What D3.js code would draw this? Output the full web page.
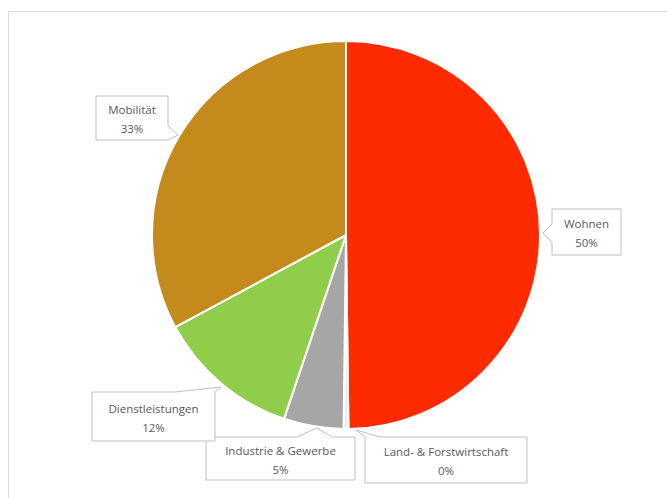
<!DOCTYPE html>
<html>
<head>
<meta charset="utf-8">
<script src="https://cdn.jsdelivr.net/npm/d3@7"></script>
<style>
  html, body { margin: 0; padding: 0; background: #fff; }
  svg { display: block; }
</style>
</head>
<body>
<svg id="chart" width="667" height="498"></svg>
<script>
// Energy use by sector (share of total)
const categories = ["Wohnen", "Land- & Forstwirtschaft", "Industrie & Gewerbe", "Dienstleistungen", "Mobilität"];
const values = [50, 0.4, 5, 12, 33];
const colors = ["#FF2B00", "#EDEDED", "#A6A6A6", "#8FCD4B", "#C48B1C"];

const svg = d3.select("#chart");
const W = 667, H = 498;

// outer chart frame
svg.append("rect")
  .attr("x", 8.5).attr("y", 11.5)
  .attr("width", W + 40).attr("height", H + 40)
  .attr("fill", "#fff")
  .attr("stroke", "#D9D9D9")
  .attr("stroke-width", 1);

const cx = 346, cy = 235, r = 194;
const total = d3.sum(values);

const pie = d3.pie().sort(null).value(d => d.value).startAngle(0).endAngle(2 * Math.PI);
const arc = d3.arc().innerRadius(0).outerRadius(r);
const data = categories.map((c, i) => ({ name: c, value: values[i], color: colors[i] }));
const arcs = pie(data);

const g = svg.append("g").attr("transform", `translate(${cx},${cy})`);
g.selectAll("path.slice")
  .data(arcs)
  .join("path")
  .attr("class", "slice")
  .attr("d", arc)
  .attr("fill", d => d.data.color)
  .attr("stroke", "#fff")
  .attr("stroke-width", 2)
  .attr("stroke-linejoin", "round");

// callout boxes: box rect, pointer side, pointer base span along that side, pointer tip
const callouts = {
  "Wohnen":                  { x: 552, y: 209, w: 69,  h: 46, side: "left",  b0: 224, b1: 242, tip: [543, 233] },
  "Land- & Forstwirtschaft": { x: 365, y: 437, w: 162, h: 46, side: "top",   b0: 365, b1: 380, tip: [356, 430] },
  "Industrie & Gewerbe":     { x: 206, y: 437, w: 149, h: 43, side: "top",   b0: 297, b1: 332, tip: [317, 428] },
  "Dienstleistungen":        { x: 92,  y: 392, w: 123, h: 49, side: "top",   b0: 175, b1: 215, tip: [221, 387] },
  "Mobilität":               { x: 96,  y: 96,  w: 72,  h: 44, side: "right", b0: 126, b1: 140, tip: [178, 135] }
};

function calloutPath(c) {
  const x0 = c.x, y0 = c.y, x1 = c.x + c.w, y1 = c.y + c.h;
  const p = d3.path();
  p.moveTo(x0, y0);
  if (c.side === "top") { p.lineTo(c.b0, y0); p.lineTo(c.tip[0], c.tip[1]); p.lineTo(c.b1, y0); }
  p.lineTo(x1, y0);
  if (c.side === "right") { p.lineTo(x1, c.b0); p.lineTo(c.tip[0], c.tip[1]); p.lineTo(x1, c.b1); }
  p.lineTo(x1, y1);
  p.lineTo(x0, y1);
  if (c.side === "left") { p.lineTo(x0, c.b1); p.lineTo(c.tip[0], c.tip[1]); p.lineTo(x0, c.b0); }
  p.closePath();
  return p.toString();
}

const labels = svg.append("g").attr("class", "labels");
arcs.forEach(a => {
  const c = callouts[a.data.name];
  const pct = Math.round(a.data.value / total * 100) + "%";
  const lg = labels.append("g");
  lg.append("path")
    .attr("d", calloutPath(c))
    .attr("fill", "#fff")
    .attr("stroke", "#BFBFBF")
    .attr("stroke-width", 1);
  const tx = c.x + c.w / 2;
  const ty = c.y + c.h / 2;
  const t = lg.append("text")
    .attr("text-anchor", "middle")
    .attr("font-family", "'Open Sans', 'Liberation Sans', sans-serif")
    .attr("font-size", 11.5)
    .attr("fill", "#595959");
  t.append("tspan").attr("x", tx).attr("y", ty - 4).text(a.data.name);
  t.append("tspan").attr("x", tx).attr("y", ty + 15).text(pct);
});
</script>
</body>
</html>
